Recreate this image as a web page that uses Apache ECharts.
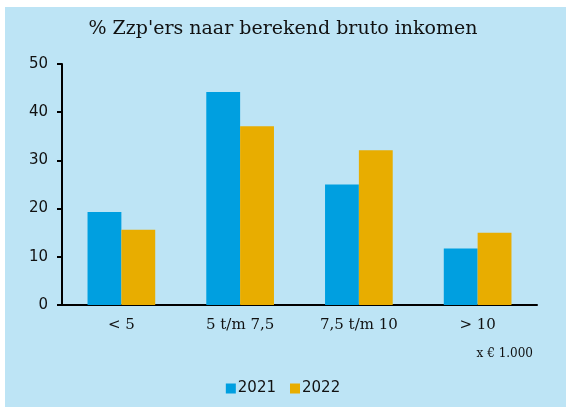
<!DOCTYPE html>
<html>
<head>
<meta charset="utf-8">
<script src="https://cdn.jsdelivr.net/npm/echarts@6/dist/echarts.min.js"></script>
<style>
  html, body { margin: 0; padding: 0; background: #fff; }
  #wrap { position: absolute; left: 5px; top: 7px; width: 561px; height: 400px; background: #bde4f5; }
  #chart { width: 566px; height: 407px; position: absolute; left: -5px; top: -7px; }
</style>
</head>
<body>
<div id="wrap"><div id="chart"></div></div>
<script>
// categorieën en waarden (%)
const categories = ['< 5', '5 t/m 7,5', '7,5 t/m 10', '> 10']
const values2021 = [19.3, 44.2, 25.0, 11.7]
const values2022 = [15.6, 37.1, 32.1, 15.0]
const seriesNames = ['2021', '2022']

const chart = echarts.init(document.getElementById('chart'))
const option = {
  backgroundColor: 'transparent',
  animation: false,
  title: {
    text: "% Zzp'ers naar berekend bruto inkomen",
    left: 'center',
    top: 15,
    textStyle: { fontFamily: 'DejaVu Serif', fontWeight: 'normal', fontSize: 19, color: '#111' }
  },
  grid: { left: 62, right: 29, top: 64, bottom: 102, containLabel: false },
  legend: {
    data: seriesNames,
    bottom: 6,
    left: 'center',
    itemWidth: 10,
    itemHeight: 10,
    itemGap: 14,
    icon: 'rect',
    textStyle: { fontFamily: 'DejaVu Sans', fontSize: 15, color: '#111', padding: [0, 0, 0, -3] }
  },
  xAxis: {
    type: 'category',
    data: categories,
    axisLine: { lineStyle: { color: '#000', width: 2 } },
    axisTick: { length: 5, lineStyle: { color: '#000', width: 2 } },
    axisLabel: { fontFamily: 'DejaVu Serif', fontSize: 15, color: '#111', margin: 13 },
    name: 'x € 1.000',
    nameLocation: 'end',
    nameGap: 0,
    nameTextStyle: { fontFamily: 'DejaVu Serif', fontSize: 12, color: '#111', align: 'right', verticalAlign: 'top', padding: [43, 4, 0, 0] }
  },
  yAxis: {
    type: 'value',
    min: 0,
    max: 50,
    interval: 10,
    splitLine: { show: false },
    axisLine: { show: true, lineStyle: { color: '#000', width: 2 } },
    axisTick: { show: true, length: 5, lineStyle: { color: '#000', width: 2 } },
    axisLabel: { fontFamily: 'DejaVu Sans', fontSize: 15, color: '#111', margin: 14 }
  },
  series: [
    {
      name: seriesNames[0],
      type: 'bar',
      data: values2021,
      barGap: '0%',
      barCategoryGap: '43%',
      itemStyle: { color: '#009fe0' }
    },
    {
      name: seriesNames[1],
      type: 'bar',
      data: values2022,
      itemStyle: { color: '#e8ad00' }
    }
  ]
}
chart.setOption(option)
</script>
</body>
</html>
